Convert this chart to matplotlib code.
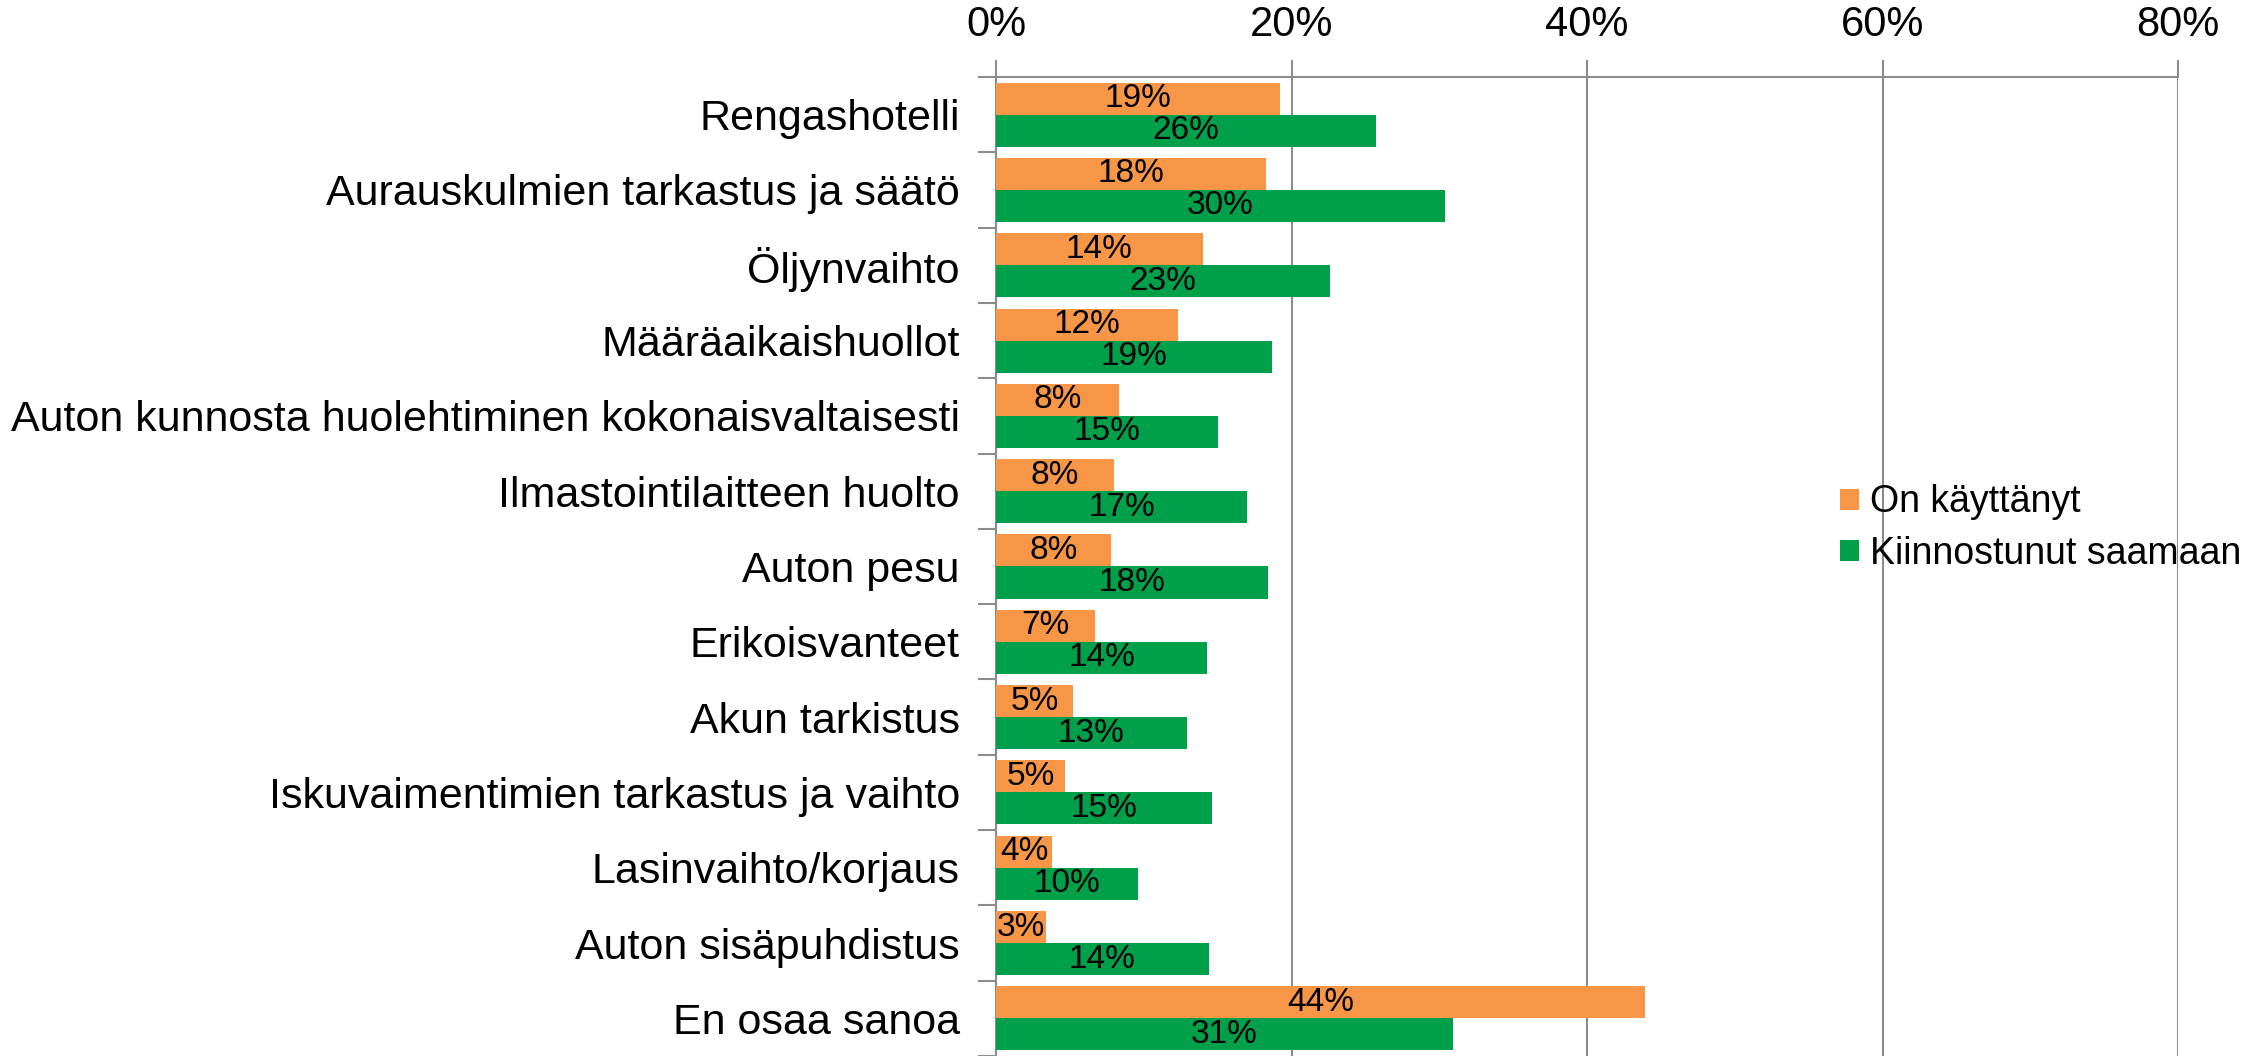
import matplotlib
matplotlib.use("Agg")
import matplotlib.pyplot as plt
import numpy as np
from matplotlib.ticker import FixedLocator, PercentFormatter

plt.rcParams["font.family"] = ["Liberation Sans", "DejaVu Sans"]

categories = [
    "Rengashotelli",
    "Aurauskulmien tarkastus ja säätö",
    "Öljynvaihto",
    "Määräaikaishuollot",
    "Auton kunnosta huolehtiminen kokonaisvaltaisesti",
    "Ilmastointilaitteen huolto",
    "Auton pesu",
    "Erikoisvanteet",
    "Akun tarkistus",
    "Iskuvaimentimien tarkastus ja vaihto",
    "Lasinvaihto/korjaus",
    "Auton sisäpuhdistus",
    "En osaa sanoa",
]
used = [19.2, 18.3, 14.0, 12.3, 8.3, 8.0, 7.8, 6.7, 5.2, 4.7, 3.8, 3.4, 43.9]
interested = [25.7, 30.4, 22.6, 18.7, 15.0, 17.0, 18.4, 14.3, 12.9, 14.6, 9.6, 14.4, 30.9]
series_names = ["On käyttänyt", "Kiinnostunut saamaan"]

ORANGE = "#F79646"
GREEN = "#00A04A"
GRID = "#8C8C8C"

fig = plt.figure(figsize=(22.64, 10.56), dpi=100)
ax = fig.add_axes([996 / 2264, 0.0, (2178 - 996) / 2264, (1056 - 77) / 1056])

y = np.arange(len(categories))
h = 0.425
b1 = ax.barh(y - h / 2, used, height=h, color=ORANGE, label=series_names[0], zorder=3)
b2 = ax.barh(y + h / 2, interested, height=h, color=GREEN, label=series_names[1], zorder=3)

# value labels centred in each bar
for bars, vals in ((b1, used), (b2, interested)):
    for bar, v in zip(bars, vals):
        ax.text(v / 2, bar.get_y() + bar.get_height() / 2, f"{v:.0f}%",
                ha="center", va="center", fontsize=24, color="black", zorder=4)

ax.set_xlim(0, 80)
ax.set_ylim(len(categories) - 0.5, -0.5)
ax.xaxis.set_major_locator(FixedLocator([0, 20, 40, 60, 80]))
ax.xaxis.set_major_formatter(PercentFormatter(decimals=0))
ax.xaxis.tick_top()
ax.tick_params(axis="x", which="major", length=12, width=1.5, color=GRID, pad=11, labelsize=30)

ax.set_yticks(y)
ax.set_yticklabels(categories)
ax.yaxis.set_minor_locator(FixedLocator(np.arange(len(categories) + 1) - 0.5))
ax.tick_params(axis="y", which="major", length=0, pad=26, labelsize=31)
ax.tick_params(axis="y", which="minor", length=13, width=1.5, color=GRID)

ax.grid(axis="x", color=GRID, linewidth=1.5, zorder=0)
for side in ("right", "bottom"):
    ax.spines[side].set_visible(False)
for side in ("top", "left"):
    ax.spines[side].set_color(GRID)
    ax.spines[side].set_linewidth(1.5)

fig.legend(handles=[b1, b2], labels=series_names, loc="center left",
           bbox_to_anchor=(1840 / 2264, 1 - 528 / 1056), frameon=False,
           fontsize=27, handlelength=0.5, handleheight=0.5, handletextpad=0.3,
           labelspacing=0.4, borderpad=0, borderaxespad=0)

fig.savefig("out.png", dpi=100)
